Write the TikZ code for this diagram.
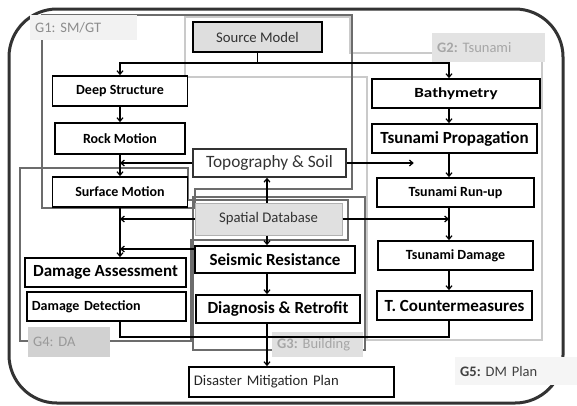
\documentclass[tikz,border=0pt]{standalone}
\usepackage{fontspec}
\setmainfont{Carlito}
\usetikzlibrary{arrows.meta}
\definecolor{grpdark}{HTML}{6C6C6C}
\definecolor{grplight}{HTML}{CACACA}
\definecolor{txtdark}{HTML}{333333}
\frenchspacing
\begin{document}
\begin{tikzpicture}[x=1pt,y=-1pt,
  bx/.style={draw=black, line width=1.8pt, fill=white, inner sep=0pt, align=center,
    font=\bfseries\fontsize{14}{14}\selectfont},
  bxL/.style={bx, font=\bfseries\fontsize{17}{17}\selectfont},
  bxR/.style={bx, font=\fontsize{14.7}{15}\selectfont, text=txtdark},
  grpD/.style={draw=grpdark, line width=2.2pt},
  grpL/.style={draw=grplight, line width=2.2pt},
  lab/.style={anchor=north west, inner ysep=0pt, inner xsep=5pt, align=left,
    font=\fontsize{14.5}{15}\selectfont},
  arr/.style={-{Straight Barb[length=3.5pt,width=6pt]}, line width=1.2pt},
  ln/.style={line width=1.2pt}]
\useasboundingbox (0,0) rectangle (577,405);
\fill[white] (0,0) rectangle (577,405);

% G5 outer frame
\draw[line width=3pt, draw=black!80, rounded corners=48pt] (9,9) rectangle (563,403);

% group outlines
\draw[grpL] (185,17) -- (350,17) -- (350,53) -- (542,53) -- (542,340) -- (367,340) -- (367,77) -- (185,77) -- cycle;
\draw[grpD] (42,15) -- (352,15) -- (352,189) -- (195,189) -- (195,208) -- (42,208) -- cycle;
\draw[grpD] (20,168) -- (188,168) -- (188,200) -- (348,200) -- (348,240) -- (191,240) -- (191,341) -- (20,341) -- cycle;
\draw[grpD] (193,197) rectangle (365,350);

% group labels
\node[lab, fill=black!5, text width=97pt, minimum height=25pt, text=black!45] (g1) at (30,15) {G1: SM/GT};
\node[lab, fill=black!11, text width=103pt, minimum height=29pt, text=black!35] (g2) at (432,33) {\textbf{G2:} Tsunami};
\node[lab, fill=black!12, text width=81pt, minimum height=25pt, text=black!35] (g3) at (272,332) {\textbf{G3:} Building};
\node[lab, fill=black!18, text width=72pt, minimum height=30pt, text=black!40] (g4) at (28,327) {G4: DA};
\node[lab, fill=black!4, text width=112pt, minimum height=28pt, text=black!75] (g5) at (455,357) {\textbf{G5:} DM Plan};

% nodes
\node[bxR, fill=black!13, minimum width=129pt, minimum height=30pt] (src) at (257.5,37) {Source Model};
\node[bx, minimum width=135pt, minimum height=30pt] (deep) at (120,91) {Deep Structure};
\node[bx, minimum width=130pt, minimum height=31pt] (rock) at (120,138.5) {Rock Motion};
\node[bx, minimum width=135pt, minimum height=30pt] (surf) at (120,192) {Surface Motion};
\node[bxR, draw=txtdark, line width=1.5pt, font=\fontsize{17.3}{18}\selectfont, minimum width=153pt, minimum height=28pt] (topo) at (269.5,163) {Topography \& Soil};
\node[bxR, fill=black!12, draw=black!30, line width=1pt, minimum width=147pt, minimum height=32pt] (spatial) at (268.5,219) {Spatial Database};
\node[bxL, minimum width=160pt, minimum height=27pt] (seis) at (275,259.5) {Seismic Resistance};
\node[bxL, minimum width=164pt, minimum height=28pt] (diag) at (278,309) {Diagnosis \& Retrofit};
\node[bxR, anchor=west, text=black!85, text width=195pt, align=left, inner xsep=5pt, minimum height=30pt] (dmp) at (188,382) {Disaster Mitigation Plan};
\node[bxL, minimum width=161pt, minimum height=29pt] (da) at (105.5,272.5) {Damage Assessment};
\node[bx, anchor=west, text width=149pt, align=left, inner xsep=5pt, minimum height=29pt] (dd) at (26,306.5) {Damage Detection};
\node[bx, minimum width=168pt, minimum height=29pt] (bath) at (456,93.5) {\scalebox{1.22}[1]{Bathymetry}};
\node[bxL, minimum width=165pt, minimum height=29pt] (prop) at (454.5,138.5) {Tsunami Propagation};
\node[bx, minimum width=157pt, minimum height=29pt] (runup) at (455.5,192.5) {Tsunami Run-up};
\node[bx, minimum width=155pt, minimum height=29pt] (tdam) at (455.5,255.5) {Tsunami Damage};
\node[bxL, minimum width=155pt, minimum height=29pt] (tc) at (454.5,305.5) {T. Countermeasures};

% helper coordinates
\coordinate (colR) at (449,0);
\coordinate (colM) at (267,0);
\coordinate (jn) at (257.5,63);
\coordinate (jb) at (267,337);
\coordinate (sr) at (195,249);

% connectors
\draw[ln] (src.south) -- (jn);
\draw[arr] (jn) -| (deep.north);
\draw[arr] (jn) -| (colR |- bath.north);
\draw[arr] (deep.south) -- (rock.north);
\draw[arr] (rock.south) -- (surf.north);
\draw[arr] (topo.west) -- (topo.west -| deep.south);
\draw[arr] (topo.east) -- ++(67,0);
\draw[arr] (spatial.north -| colM) -- (colM |- topo.south);
\draw[arr] (spatial.south -| colM) -- (colM |- seis.north);
\draw[arr] (spatial.west) -- (spatial.west -| deep.south);
\draw[arr] (spatial.east) -- (spatial.east -| colR);
\draw[arr] (surf.south) -- (da.north -| surf.south);
\draw[arr] (sr) -- (sr -| deep.south);
\draw[arr] (colM |- seis.south) -- (colM |- diag.north);
\draw[arr] (colM |- diag.south) -- (colM |- dmp.north);
\draw[ln] (dd.south -| deep.south) |- (jb);
\draw[ln] (colR |- tc.south) |- (jb);
\draw[arr] (colR |- bath.south) -- (colR |- prop.north);
\draw[arr] (colR |- prop.south) -- (colR |- runup.north);
\draw[arr] (colR |- runup.south) -- (colR |- tdam.north);
\draw[arr] (colR |- tdam.south) -- (colR |- tc.north);
\end{tikzpicture}
\end{document}
